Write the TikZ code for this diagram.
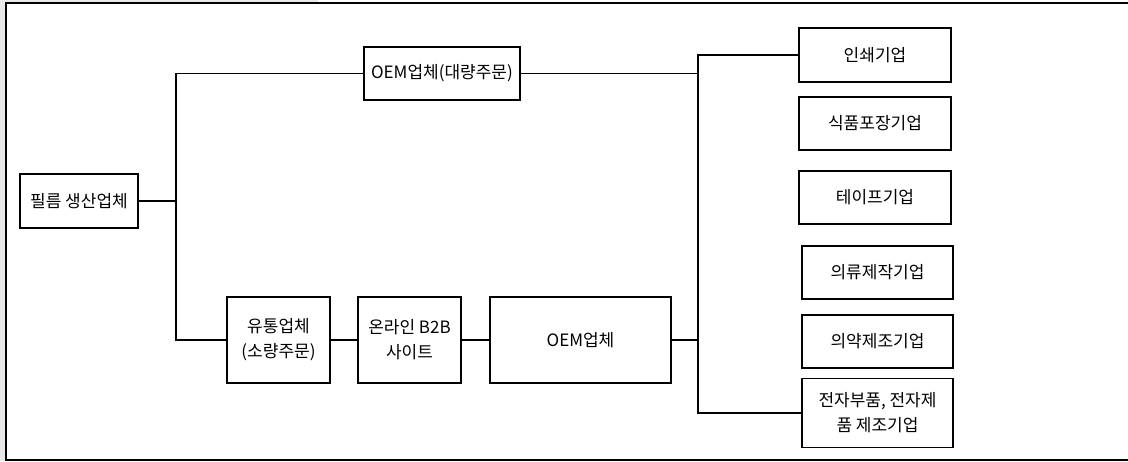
\documentclass[tikz,border=0pt]{standalone}
\usepackage{fontspec}
\usepackage{xcolor}
\newfontfamily\krfont{Noto Sans CJK KR}

\begin{document}
\begin{tikzpicture}[x=1pt,y=-1pt,line width=1.1pt,
	box/.style={draw,align=center,inner sep=0pt,font=\krfont\fontsize{17}{25}\selectfont}]
	\useasboundingbox (0,0) rectangle (1128,461);
	\fill[gray!18] (0,0) rectangle (5,461);
	\fill[gray!18] (0,0) rectangle (318,2);
	\draw[line width=1.3pt] (1128,3) -- (6,3) -- (6,460) -- (1128,460);
	\node[box,minimum width=118,minimum height=54] (film) at (79,201) {필름 생산업체};
	\node[box,minimum width=156,minimum height=53] (oemA) at (442,73.5) {OEM업체(대량주문)};
	\node[box,minimum width=103,minimum height=86] (dist) at (278.5,340) {유통업체\\(소량주문)};
	\node[box,minimum width=103,minimum height=86] (b2b) at (409.5,340) {온라인 B2B\\사이트};
	\node[box,minimum width=181,minimum height=86] (oemB) at (580.5,340) {OEM업체};
	\node[box,minimum width=152,minimum height=54] (print) at (875,55) {인쇄기업};
	\node[box,minimum width=152,minimum height=53] (food) at (875,123.5) {식품포장기업};
	\node[box,minimum width=152,minimum height=53] (tape) at (875,197.5) {테이프기업};
	\node[box,minimum width=151,minimum height=53] (cloth) at (877.5,272.5) {의류제작기업};
	\node[box,minimum width=151,minimum height=53] (pharma) at (877.5,341.5) {의약제조기업};
	\node[box,minimum width=151,minimum height=69] (elec) at (877.5,413) {전자부품, 전자제\\품 제조기업};
	\coordinate (jl) at (176,0);
	\coordinate (jr) at (698,0);
	\draw (film.east) -- (film.east -| jl);
	\draw (oemA.west) -| (jl |- dist) -- (dist.west);
	\draw (dist) -- (b2b);
	\draw (b2b) -- (oemB);
	\draw (oemA.east) -- (oemA.east -| jr);
	\draw (print.west) -| (jr |- elec) -- (elec.west);
	\draw (oemB.east) -- (oemB.east -| jr);
\end{tikzpicture}
\end{document}
